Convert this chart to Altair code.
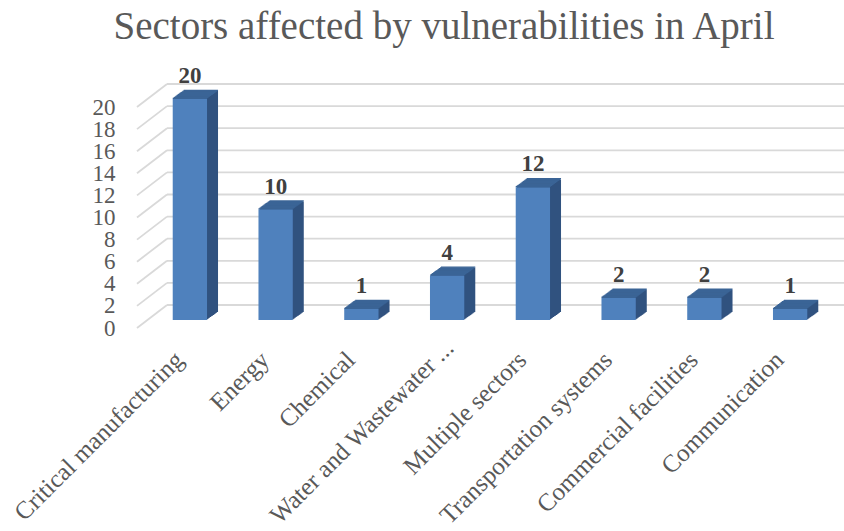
import altair as alt
import pandas as pd

categories = [
    "Critical manufacturing",
    "Energy",
    "Chemical",
    "Water and Wastewater ...",
    "Multiple sectors",
    "Transportation systems",
    "Commercial facilities",
    "Communication",
]
counts = [20, 10, 1, 4, 12, 2, 2, 1]
y_ticks = [0, 2, 4, 6, 8, 10, 12, 14, 16, 18, 20]
title_text = "Sectors affected by vulnerabilities in April"

FONT = "Liberation Serif"
FRONT = "#4f81bd"
TOP = "#3b6496"
SIDE = "#30527f"
GRID = "#d9d9d9"

W, H = 686, 221
DEPTH_X, DEPTH_Y = 11, 8

df = pd.DataFrame({"sector": categories, "count": counts})
grid_df = pd.DataFrame({"tick": y_ticks})

yscale = alt.Scale(domain=[0, 20], nice=False, zero=True)
xscale = alt.Scale(paddingInner=0.6, paddingOuter=0.3)

water_test = "datum.value === 'Water and Wastewater ...'"
x_axis = alt.Axis(
    title=None, labelAngle=-45, labelFontSize=25, labelColor="#595959",
    labelFont=FONT, domain=False, ticks=False,
    labelPadding={"condition": {"test": water_test, "value": 29}, "value": 41},
    labelOffset={"condition": {"test": water_test, "value": 8}, "value": -5},
    labelBaseline="alphabetic", labelAlign="right",
    labelOverlap=False, labelLimit=400,
)
y_axis = alt.Axis(
    title=None, values=y_ticks, labelFontSize=23, labelColor="#595959",
    labelFont=FONT, domain=False, ticks=False, grid=False,
    labelPadding=32, labelOffset=8, labelOverlap=False,
)

def xe():
    return alt.X("sector:N", sort=categories, scale=xscale, axis=x_axis)

def ye(field="count:Q"):
    return alt.Y(field, scale=yscale, axis=y_axis)

base = alt.Chart(df)

# back-wall gridlines
grid_back = alt.Chart(grid_df).mark_rule(color=GRID, strokeWidth=1.8, yOffset=-15).encode(
    y=ye("tick:Q"),
    x=alt.value(20), x2=alt.value(700),
)
grid_side = alt.Chart(grid_df).mark_rule(color=GRID, strokeWidth=1.8, yOffset=8, y2Offset=-15).encode(
    y=ye("tick:Q"),
    y2=alt.Y2("tick"),
    x=alt.value(-10), x2=alt.value(20),
)

layers = [grid_back, grid_side]

# side faces (stepped extrusion)
for k in range(1, DEPTH_X + 1):
    off = -k * DEPTH_Y / DEPTH_X
    layers.append(
        base.mark_bar(color=SIDE, xOffset=k, yOffset=off, y2Offset=off).encode(
            x=xe(), y=ye()
        )
    )
# top faces
for k in range(0, DEPTH_X + 1):
    off = -k * DEPTH_Y / DEPTH_X
    layers.append(
        base.mark_bar(color=TOP, xOffset=k, yOffset=off - 1.3, y2Offset=off).encode(
            x=xe(), y=ye(), y2=alt.Y2("count")
        )
    )
# front faces
front = base.mark_bar(color=FRONT).encode(x=xe(), y=ye())
labels = base.mark_text(
    font=FONT, fontSize=23, fontWeight="bold", color="#404040",
    baseline="alphabetic", dy=-16,
).encode(x=xe(), y=ye(), text="count:Q")
layers += [front, labels]

chart = alt.layer(*layers).properties(
    width=W, height=H,
    title=alt.TitleParams(
        title_text, font=FONT, fontSize=39, fontWeight="normal", color="#595959",
        anchor="middle", frame="group", dx=-46, offset=-13, baseline="alphabetic",
    ),
    autosize=alt.AutoSizeParams(type="none"),
    padding={"left": 147, "top": 99, "right": 11, "bottom": 211},
).configure(font=FONT).configure_view(stroke=None)

chart.save("out.html", embed_options={"renderer": "svg", "actions": False})
